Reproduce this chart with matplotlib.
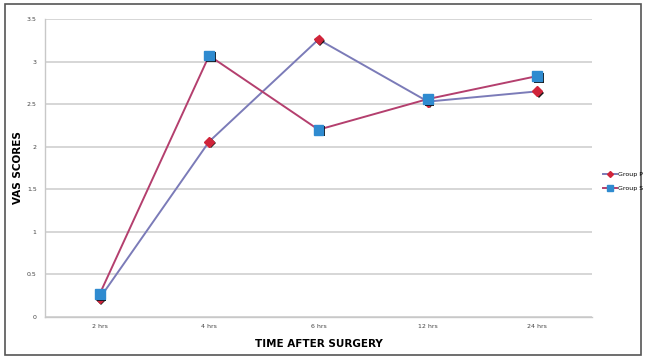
import matplotlib.pyplot as plt
import matplotlib.patheffects as pe
from matplotlib.lines import Line2D
from matplotlib.patches import Rectangle

zeiten = ['2 hrs', '4 hrs', '6 hrs', '12 hrs', '24 hrs']
group_p = [0.22, 2.06, 3.26, 2.53, 2.65]
group_s = [0.27, 3.07, 2.20, 2.56, 2.83]
y_ticks = [0, 0.5, 1, 1.5, 2, 2.5, 3, 3.5]
y_labels = ['0', '0.5', '1', '1.5', '2', '2.5', '3', '3.5']

farbe_p = '#7b7bb8'
farbe_s = '#b43f6e'
raute = '#d0243a'
quadrat = '#2f8bd0'

fig = plt.figure(figsize=(6.46, 3.56), dpi=100)
ax = fig.add_axes([0.0697, 0.1096, 0.8467, 0.837])

x = range(len(zeiten))
schatten = [pe.SimplePatchShadow(offset=(1.2, -1.2), shadow_rgbFace='black', alpha=0.9), pe.Normal()]

ax.plot(x, group_p, color=farbe_p, lw=1.4, zorder=3)
ax.plot(x, group_s, color=farbe_s, lw=1.4, zorder=3)
ax.plot(x, group_p, ls='none', marker='D', ms=5, mfc=raute, mec=raute, zorder=4,
        path_effects=schatten)
ax.plot(x, group_s, ls='none', marker='s', ms=7, mfc=quadrat, mec=quadrat, zorder=5,
        path_effects=schatten)

ax.set_xlim(-0.5, len(zeiten) - 0.5)
ax.set_ylim(0, 3.5)
ax.set_xticks(list(x))
ax.set_xticklabels(zeiten, fontsize=4.5, color='#444444')
ax.set_yticks(y_ticks)
ax.set_yticklabels(y_labels, fontsize=4.5, color='#444444')
ax.tick_params(axis='x', length=0, pad=5)
ax.tick_params(axis='y', length=0, pad=6)
ax.grid(axis='y', color='#cfcfcf', lw=1.2)
ax.set_axisbelow(True)
for s in ['top', 'right']:
    ax.spines[s].set_visible(False)
for s in ['left', 'bottom']:
    ax.spines[s].set_color('#c8c8c8')
    ax.spines[s].set_linewidth(1.0)

ax.set_xlabel('TIME AFTER SURGERY', fontsize=7.5, fontweight='bold')
ax.set_ylabel('VAS SCORES', fontsize=7.5, fontweight='bold')
ax.xaxis.set_label_coords(0.5, -0.075)
ax.yaxis.set_label_coords(-0.041, 0.5)

handles = [
    Line2D([], [], color=farbe_p, lw=1.4, marker='D', ms=3, mfc=raute, mec=raute),
    Line2D([], [], color=farbe_s, lw=1.4, marker='s', ms=4, mfc=quadrat, mec=quadrat),
]
fig.legend(handles, ['Group P', 'Group S'], loc='center left', bbox_to_anchor=(0.925, 0.49),
           frameon=False, fontsize=4.5, handlelength=2.2, handletextpad=0.1, labelspacing=1.4)

fig.patches.append(Rectangle((0.008, 0.002), 0.984, 0.987, transform=fig.transFigure,
                             fill=False, edgecolor='#555555', lw=1.2))

fig.savefig('out.png', dpi=100)
